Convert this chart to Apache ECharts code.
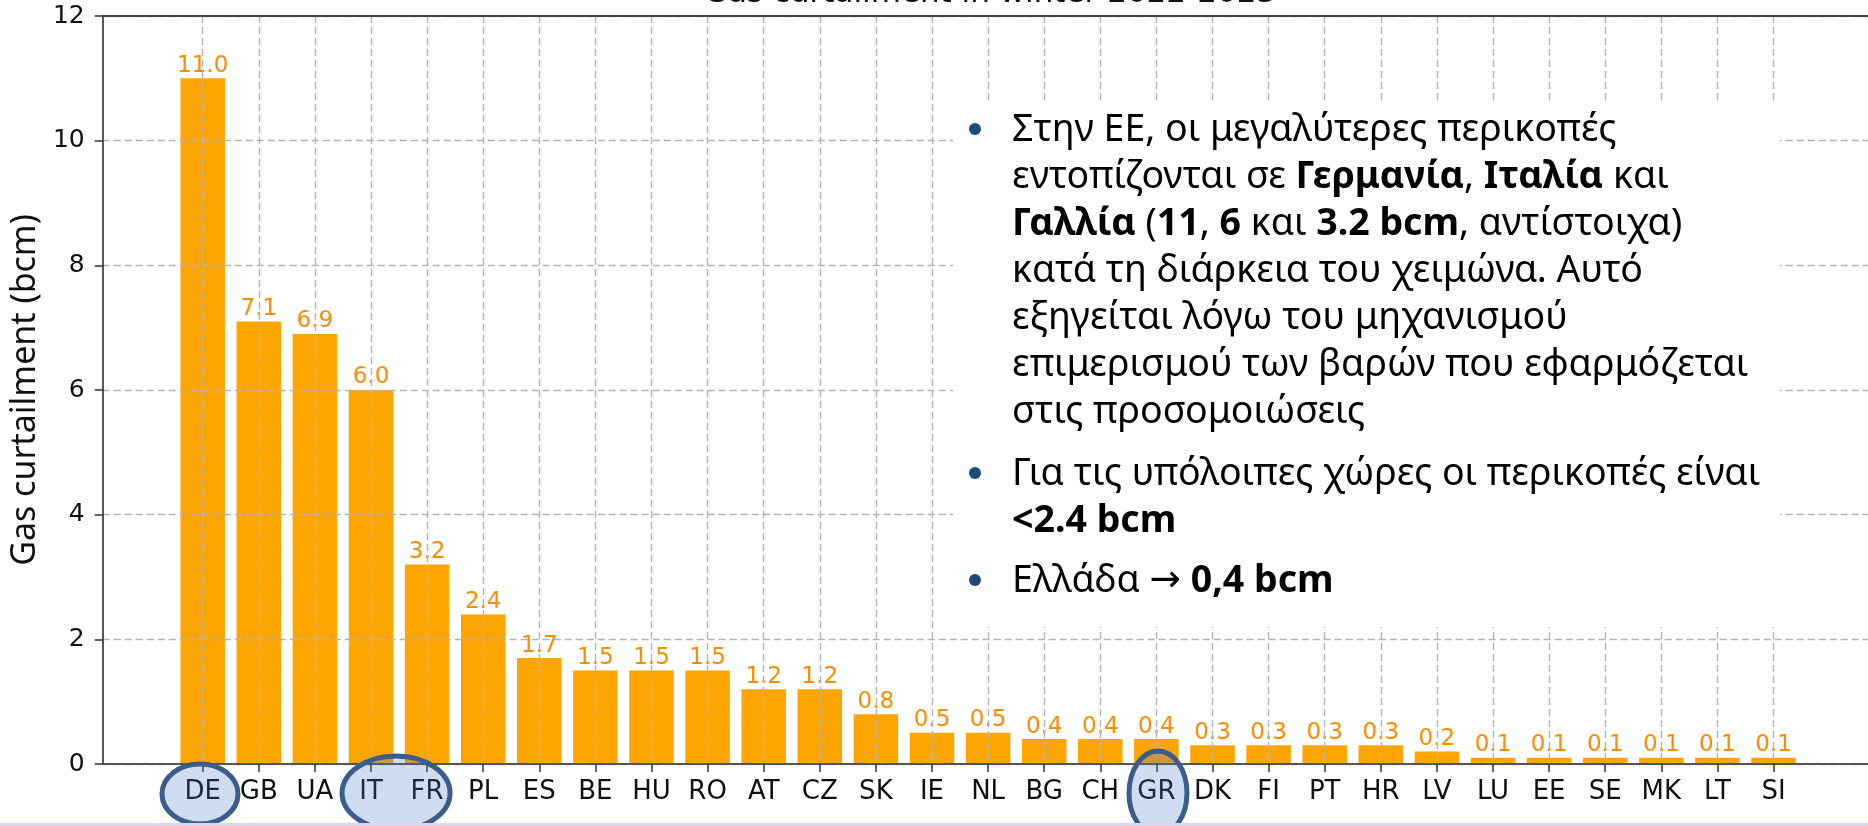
<!DOCTYPE html>
<html>
<head>
<meta charset="utf-8">
<title>Gas curtailment in winter 2022-2023</title>
<script src="https://cdn.jsdelivr.net/npm/echarts@6.0.0/dist/echarts.min.js"></script>
<style>
  html, body { margin: 0; padding: 0; background: #fff; }
  #chart { width: 1868px; height: 826px; }
</style>
</head>
<body>
<div id="chart"></div>
<script>
  // data
  var countries = ['DE', 'GB', 'UA', 'IT', 'FR', 'PL', 'ES', 'BE', 'HU', 'RO', 'AT', 'CZ', 'SK', 'IE', 'NL',
    'BG', 'CH', 'GR', 'DK', 'FI', 'PT', 'HR', 'LV', 'LU', 'EE', 'SE', 'MK', 'LT', 'SI'];
  var curtailment = [11.0, 7.1, 6.9, 6.0, 3.2, 2.4, 1.7, 1.5, 1.5, 1.5, 1.2, 1.2, 0.8, 0.5, 0.5,
    0.4, 0.4, 0.4, 0.3, 0.3, 0.3, 0.3, 0.2, 0.1, 0.1, 0.1, 0.1, 0.1, 0.1];
  var yMin = 0, yMax = 12, yStep = 2;
  var titleText = 'Gas curtailment in winter 2022-2023';
  var yName = 'Gas curtailment (bcm)';

  // note box, rich text lines
  var noteLines = [
    'Στην ΕΕ, οι μεγαλύτερες περικοπές',
    'εντοπίζονται σε {b|Γερμανία}, {b|Ιταλία} και',
    '{b|Γαλλία} ({b|11}, {b|6} και {b|3.2 bcm}, αντίστοιχα)',
    'κατά τη διάρκεια του χειμώνα. Αυτό',
    'εξηγείται λόγω του μηχανισμού',
    'επιμερισμού των βαρών που εφαρμόζεται',
    'στις προσομοιώσεις',
    'Για τις υπόλοιπες χώρες οι περικοπές είναι',
    '{b|<2.4 bcm}',
    'Ελλάδα {a|→} {b|0,4 bcm}'
  ];
  var noteLineY = [130, 177, 224, 271, 318, 365, 412, 474, 521, 581];
  var bulletLines = [0, 7, 9];

  var MONO = 'DejaVu Sans';
  var SANS = 'Noto Sans';
  var NOTE_SIZE = 37.5;
  var gridLine = {color: '#b4b4b4', width: 1.4, type: [7, 4]};

  var chart = echarts.init(document.getElementById('chart'));

  chart.setOption({
    animation: false,
    backgroundColor: '#fff',
    grid: [
      {left: 100, right: -8, top: 16, bottom: 62},
      {left: 202.7, right: 94.5, top: 16, bottom: 62}
    ],
    xAxis: [
      {
        // bottom spine
        gridIndex: 0, type: 'value', min: 0, max: 1, z: 3,
        axisLine: {show: true, lineStyle: {color: '#555', width: 2}},
        axisTick: {show: false}, axisLabel: {show: false}, splitLine: {show: false}
      },
      {
        gridIndex: 1, type: 'category', data: countries, boundaryGap: false, z: 3,
        axisLine: {show: false},
        axisTick: {show: true, length: 8, lineStyle: {color: '#333', width: 1.5}},
        axisLabel: {interval: 0, margin: 15, fontFamily: MONO, fontSize: 26, color: '#111'},
        splitLine: {show: true, lineStyle: gridLine}
      },
      {
        // top spine
        gridIndex: 0, type: 'value', position: 'top', min: 0, max: 1, z: 3,
        axisLine: {show: true, onZero: false, lineStyle: {color: '#444', width: 2}},
        axisTick: {show: false}, axisLabel: {show: false}, splitLine: {show: false}
      }
    ],
    yAxis: [
      {
        gridIndex: 0, type: 'value', min: yMin, max: yMax, interval: yStep, z: 3,
        name: yName, nameLocation: 'middle', nameGap: 50,
        nameTextStyle: {fontFamily: SANS, fontSize: 34, color: '#111'},
        axisLine: {show: true, lineStyle: {color: '#222', width: 1.5}},
        axisTick: {show: true, length: 8, lineStyle: {color: '#333', width: 1.5}},
        axisLabel: {margin: 18, fontFamily: MONO, fontSize: 25, color: '#111'},
        splitLine: {show: true, lineStyle: gridLine}
      },
      {
        gridIndex: 1, type: 'value', min: yMin, max: yMax, show: false,
        splitLine: {show: false}
      }
    ],
    series: [
      {
        type: 'bar',
        xAxisIndex: 1,
        yAxisIndex: 1,
        data: curtailment,
        barWidth: 44.5,
        clip: false,
        z: 1,
        itemStyle: {color: '#ffa500'},
        label: {
          show: true,
          position: 'top',
          distance: 1,
          fontFamily: MONO,
          fontSize: 23,
          color: '#ff8c00',
          formatter: function (p) { return p.value.toFixed(1); }
        }
      }
    ]
  });

  // annotations: title strip, note box, ellipses round some labels
  var graphics = [];
  graphics.push({
    type: 'text', x: 990, y: -6, z: 30,
    style: {text: titleText, fontFamily: MONO, fontSize: 31, fill: '#111', align: 'center', verticalAlign: 'middle'}
  });
  graphics.push({
    type: 'rect', z: 20, shape: {x: 953, y: 102, width: 827, height: 525},
    style: {fill: '#fff'}
  });
  noteLines.forEach(function (line, i) {
    graphics.push({
      type: 'text', x: 1012, y: noteLineY[i], z: 21,
      style: {
        text: line, fontFamily: SANS, fontSize: NOTE_SIZE, fill: '#000', verticalAlign: 'middle',
        rich: {
          b: {fontFamily: SANS, fontSize: NOTE_SIZE, fontWeight: 'bold', fill: '#000'},
          a: {fontFamily: MONO, fontSize: NOTE_SIZE, fill: '#000'}
        }
      }
    });
  });
  bulletLines.forEach(function (i) {
    graphics.push({
      type: 'circle', z: 21, shape: {cx: 975, cy: noteLineY[i] - 1, r: 6},
      style: {fill: '#1f497d'}
    });
  });

  var ringStyle = {fill: 'rgba(68,114,196,0.25)', stroke: '#3b5d8c', lineWidth: 5};
  function px(name) {
    return chart.convertToPixel({xAxisIndex: 1, yAxisIndex: 1}, [name, 0]);
  }
  var de = px('DE'), it = px('IT'), fr = px('FR'), gr = px('GR');
  graphics.push({type: 'ellipse', z: 40, shape: {cx: de[0] - 2.7, cy: 794, rx: 38, ry: 30}, style: ringStyle});
  graphics.push({type: 'ellipse', z: 40, shape: {cx: (it[0] + fr[0]) / 2 - 3, cy: 793, rx: 54, ry: 37}, style: ringStyle});
  graphics.push({type: 'ellipse', z: 40, shape: {cx: gr[0] + 1.6, cy: 793, rx: 29, ry: 42}, style: ringStyle});

  // slide edge below the chart
  graphics.push({type: 'rect', z: 50, shape: {x: 0, y: 823, width: 1868, height: 3}, style: {fill: '#dcd6ec'}});

  chart.setOption({graphic: graphics});
</script>
</body>
</html>
